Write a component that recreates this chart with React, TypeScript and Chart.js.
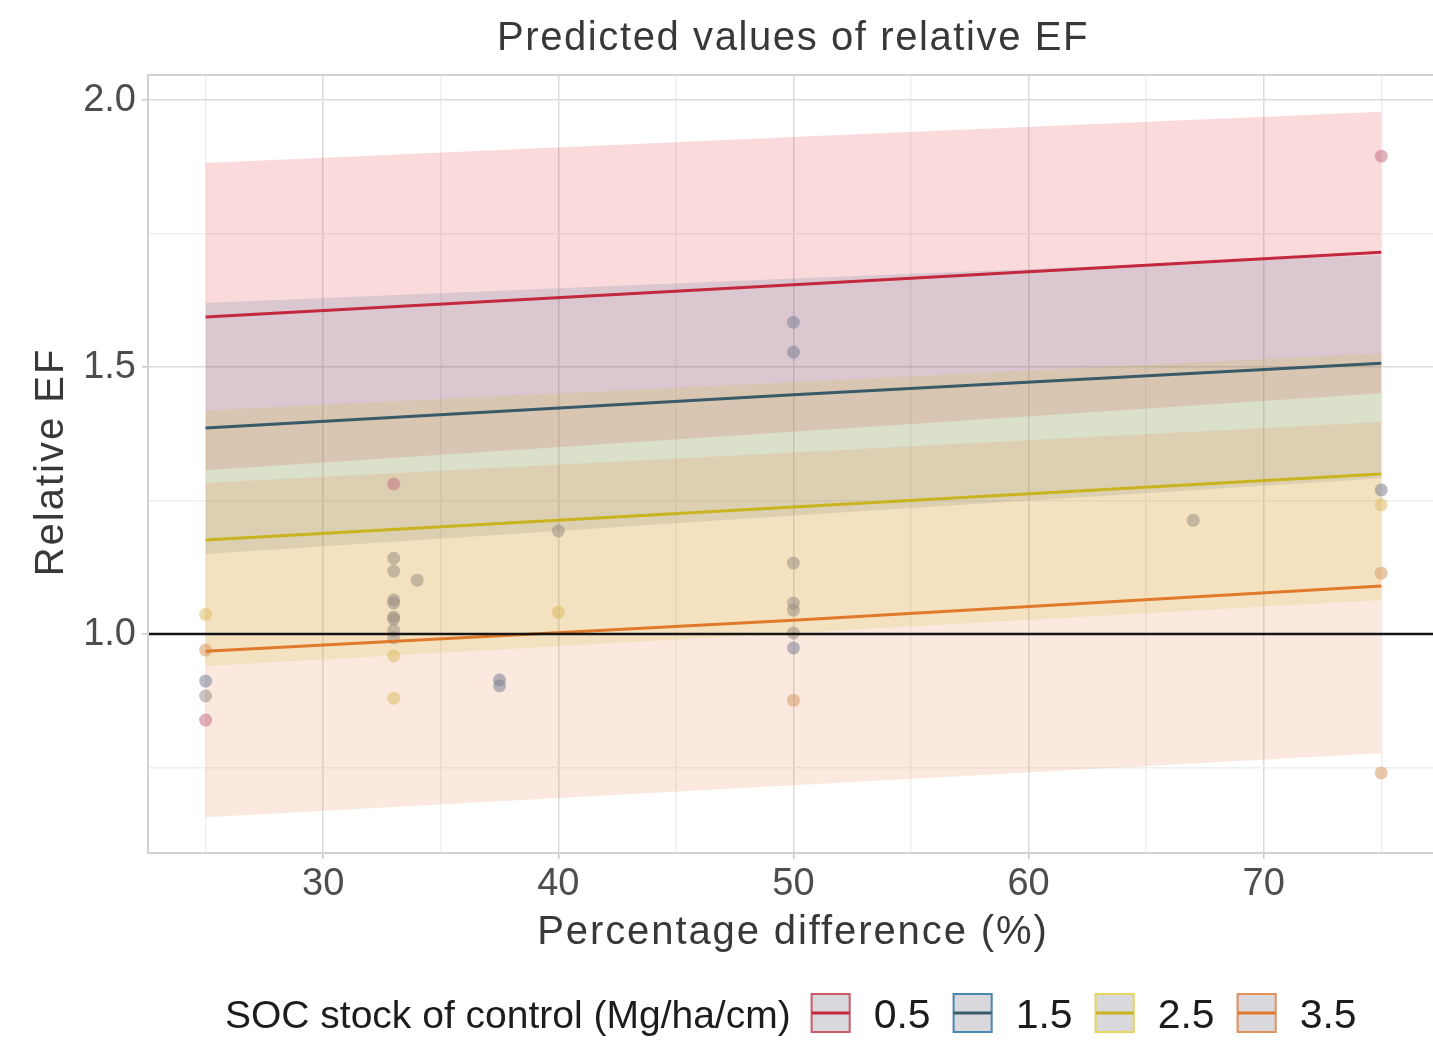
import React, { useEffect, useRef } from 'react';
import { Chart, registerables } from 'chart.js';

Chart.register(...registerables);

// ---------- text ----------
const TITLE = 'Predicted values of relative EF';
const X_TITLE = 'Percentage difference (%)';
const Y_TITLE = 'Relative EF';
const LEGEND_TITLE = 'SOC stock of control (Mg/ha/cm)';
const GROUPS = ['0.5', '1.5', '2.5', '3.5'];

// ---------- axes ----------
const X_MIN = 22.55;
const X_MAX = 77.2;
const Y_MIN = 0.59;
const Y_MAX = 2.047;
const X_TICKS = [25, 30, 35, 40, 45, 50, 55, 60, 65, 70, 75];
const X_LABELED = [30, 40, 50, 60, 70];
const Y_TICKS = [0.75, 1.0, 1.25, 1.5, 1.75, 2.0];
const Y_LABELED = [1.0, 1.5, 2.0];
const REF_Y = 1.0;

// ---------- predictions (x = 25, 50, 75) ----------
const PRED_X = [25, 50, 75];
const FIT_05 = [1.594, 1.654, 1.715];
const LOW_05 = [1.307, 1.379, 1.451];
const UP_05 = [1.882, 1.931, 1.978];
const FIT_15 = [1.386, 1.448, 1.507];
const LOW_15 = [1.15, 1.222, 1.292];
const UP_15 = [1.62, 1.666, 1.71];
const FIT_25 = [1.176, 1.238, 1.3];
const LOW_25 = [0.94, 1.002, 1.064];
const UP_25 = [1.419, 1.472, 1.526];
const FIT_35 = [0.968, 1.026, 1.09];
const LOW_35 = [0.657, 0.717, 0.777];
const UP_35 = [1.283, 1.34, 1.397];

// ---------- observed points ----------
const PTS_05_X = [25, 33, 75];
const PTS_05_Y = [0.839, 1.281, 1.895];
const PTS_15_X = [25, 37.5, 37.5, 50, 50, 50, 75];
const PTS_15_Y = [0.912, 0.914, 0.903, 1.584, 1.528, 0.974, 1.27];
const PTS_25_X = [25, 33, 33, 40, 75];
const PTS_25_Y = [1.037, 0.88, 0.959, 1.041, 1.242];
const PTS_35_X = [25, 50, 75, 75];
const PTS_35_Y = [0.97, 0.876, 1.114, 0.74];
const PTS_MIX_X = [25, 33, 33, 33, 33, 33, 33, 33, 33, 34, 40, 50, 50, 50, 50, 67];
const PTS_MIX_Y = [0.884, 1.142, 1.118, 1.064, 1.058, 1.032, 1.028, 1.007, 0.993, 1.101, 1.193, 1.133, 1.058, 1.045, 1.002, 1.213];

// ---------- styles ----------
const LINE_COLORS = ['#c3283e', '#3a5a69', '#c9b31f', '#e07a2a'];
const KEY_BORDERS = ['#cf5a6c', '#4a88b0', '#e8d660', '#e5925a'];
const BAND_COLORS = [
  'rgba(228,26,28,0.16)',
  'rgba(50,100,150,0.16)',
  'rgba(200,195,30,0.17)',
  'rgba(230,110,40,0.15)',
];
const POINT_COLORS = [
  'rgba(200,115,130,0.55)',
  'rgba(125,132,150,0.55)',
  'rgba(220,190,100,0.55)',
  'rgba(215,155,100,0.55)',
  'rgba(150,138,128,0.5)',
];
const FONT = '"Liberation Sans", Arial, Helvetica, sans-serif';

const toXY = (xs: number[], ys: number[]) => xs.map((x, i) => ({ x, y: ys[i] }));

const textPlugin = {
  id: 'customTexts',
  afterDatasetsDraw(chart: any) {
    const { ctx, chartArea, scales } = chart;
    const y = scales.y.getPixelForValue(REF_Y);
    ctx.save();
    ctx.strokeStyle = '#151515';
    ctx.lineWidth = 2.5;
    ctx.beginPath();
    ctx.moveTo(chartArea.left, y);
    ctx.lineTo(chartArea.right, y);
    ctx.stroke();
    ctx.restore();
  },
  afterDraw(chart: any) {
    const { ctx, chartArea } = chart;
    ctx.save();
    // panel border
    ctx.strokeStyle = '#d2d2d2';
    ctx.lineWidth = 2;
    ctx.beginPath();
    ctx.moveTo(chartArea.right, chartArea.top);
    ctx.lineTo(chartArea.left, chartArea.top);
    ctx.lineTo(chartArea.left, chartArea.bottom);
    ctx.lineTo(chartArea.right, chartArea.bottom);
    ctx.stroke();

    const cx = 793;
    // title
    ctx.fillStyle = '#383838';
    ctx.textAlign = 'center';
    ctx.textBaseline = 'alphabetic';
    ctx.font = `40px ${FONT}`;
    (ctx as any).letterSpacing = '1.6px';
    ctx.fillText(TITLE, cx, 50);
    // x title
    (ctx as any).letterSpacing = '1.9px';
    ctx.fillText(X_TITLE, cx, 944);
    // y title
    (ctx as any).letterSpacing = '2px';
    ctx.save();
    ctx.translate(63, 462);
    ctx.rotate(-Math.PI / 2);
    ctx.fillText(Y_TITLE, 0, 0);
    ctx.restore();

    // legend
    (ctx as any).letterSpacing = '0px';
    ctx.fillStyle = '#1c1c1c';
    ctx.textAlign = 'left';
    ctx.font = `39px ${FONT}`;
    let x = 225;
    const base = 1028;
    ctx.fillText(LEGEND_TITLE, x, base);
    x += ctx.measureText(LEGEND_TITLE).width + 20;
    ctx.font = `41px ${FONT}`;
    GROUPS.forEach((g, i) => {
      const kTop = 993;
      const k = 40;
      ctx.fillStyle = '#d9d9dd';
      ctx.fillRect(x, kTop, k, k);
      ctx.strokeStyle = KEY_BORDERS[i];
      ctx.lineWidth = 2;
      ctx.strokeRect(x + 1, kTop + 1, k - 2, k - 2);
      ctx.strokeStyle = LINE_COLORS[i];
      ctx.lineWidth = 3;
      ctx.beginPath();
      ctx.moveTo(x + 1, kTop + k / 2);
      ctx.lineTo(x + k - 1, kTop + k / 2);
      ctx.stroke();
      x += k + 23;
      ctx.fillStyle = '#1c1c1c';
      ctx.fillText(g, x, base);
      x += ctx.measureText(g).width + 22;
    });
    ctx.restore();
  },
};

export default function App() {
  const ref = useRef<HTMLCanvasElement | null>(null);

  useEffect(() => {
    if (!ref.current) return;
    const fits = [FIT_05, FIT_15, FIT_25, FIT_35];
    const lows = [LOW_05, LOW_15, LOW_25, LOW_35];
    const ups = [UP_05, UP_15, UP_25, UP_35];
    const ptsX = [PTS_05_X, PTS_15_X, PTS_25_X, PTS_35_X, PTS_MIX_X];
    const ptsY = [PTS_05_Y, PTS_15_Y, PTS_25_Y, PTS_35_Y, PTS_MIX_Y];

    const datasets: any[] = [];
    GROUPS.forEach((g, i) => {
      datasets.push({
        label: `low ${g}`,
        data: toXY(PRED_X, lows[i]),
        borderWidth: 0,
        borderColor: 'rgba(0,0,0,0)',
        pointRadius: 0,
        fill: false,
        order: 50 - i,
      });
      datasets.push({
        label: `band ${g}`,
        data: toXY(PRED_X, ups[i]),
        borderWidth: 0,
        borderColor: 'rgba(0,0,0,0)',
        backgroundColor: BAND_COLORS[i],
        pointRadius: 0,
        fill: '-1',
        order: 50 - i,
      });
    });
    ptsX.forEach((xs, i) => {
      datasets.push({
        label: `pts ${i}`,
        data: toXY(xs, ptsY[i]),
        showLine: false,
        pointRadius: 6.5,
        pointBorderWidth: 0,
        pointBackgroundColor: POINT_COLORS[i],
        pointBorderColor: 'rgba(0,0,0,0)',
        order: 20,
      });
    });
    GROUPS.forEach((g, i) => {
      datasets.push({
        label: g,
        data: toXY(PRED_X, fits[i]),
        borderColor: LINE_COLORS[i],
        borderWidth: 3,
        pointRadius: 0,
        fill: false,
        order: 10 - i,
      });
    });

    const chart = new Chart(ref.current, {
      type: 'line',
      data: { datasets },
      plugins: [textPlugin],
      options: {
        responsive: false,
        animation: false,
        devicePixelRatio: 1,
        layout: { autoPadding: false, padding: { top: 75, left: 0, right: 0, bottom: 100 } },
        plugins: { legend: { display: false }, tooltip: { enabled: false }, title: { display: false } },
        elements: { line: { tension: 0 } },
        scales: {
          x: {
            type: 'linear',
            min: X_MIN,
            max: X_MAX,
            afterBuildTicks: (axis: any) => {
              axis.ticks = X_TICKS.map((v) => ({ value: v }));
            },
            afterFit: (s: any) => {
              s.height = 95;
              s.paddingLeft = 0;
              s.paddingRight = 0;
            },
            border: { display: false },
            grid: {
              color: (c: any) => (c.tick && X_LABELED.includes(c.tick.value) ? '#dcdcdc' : '#efefef'),
              lineWidth: 1.5,
              tickLength: 6,
              tickColor: (c: any) => (c.tick && X_LABELED.includes(c.tick.value) ? '#c8c8c8' : 'rgba(0,0,0,0)'),
            },
            ticks: {
              autoSkip: false,
              maxRotation: 0,
              padding: 3,
              color: '#4d4d4d',
              font: { family: FONT, size: 38 },
              callback: (v: any) => (X_LABELED.includes(Number(v)) ? String(v) : ''),
            },
          },
          y: {
            type: 'linear',
            min: Y_MIN,
            max: Y_MAX,
            afterBuildTicks: (axis: any) => {
              axis.ticks = Y_TICKS.map((v) => ({ value: v }));
            },
            afterFit: (s: any) => {
              s.width = 148;
              s.paddingTop = 0;
              s.paddingBottom = 0;
            },
            border: { display: false },
            grid: {
              color: (c: any) => (c.tick && Y_LABELED.includes(c.tick.value) ? '#dcdcdc' : '#efefef'),
              lineWidth: 1.5,
              tickLength: 6,
              tickColor: (c: any) => (c.tick && Y_LABELED.includes(c.tick.value) ? '#c8c8c8' : 'rgba(0,0,0,0)'),
            },
            ticks: {
              autoSkip: false,
              padding: 6,
              color: '#4d4d4d',
              font: { family: FONT, size: 38 },
              callback: (v: any) => (Y_LABELED.includes(Number(v)) ? Number(v).toFixed(1) : ''),
            },
          },
        },
      } as any,
    });
    return () => chart.destroy();
  }, []);

  return (
    <div style={{ position: 'absolute', left: 0, top: 0, width: 1433, height: 1048, background: '#ffffff' }}>
      <canvas ref={ref} width={1433} height={1048} style={{ width: 1433, height: 1048, display: 'block' }} />
    </div>
  );
}
